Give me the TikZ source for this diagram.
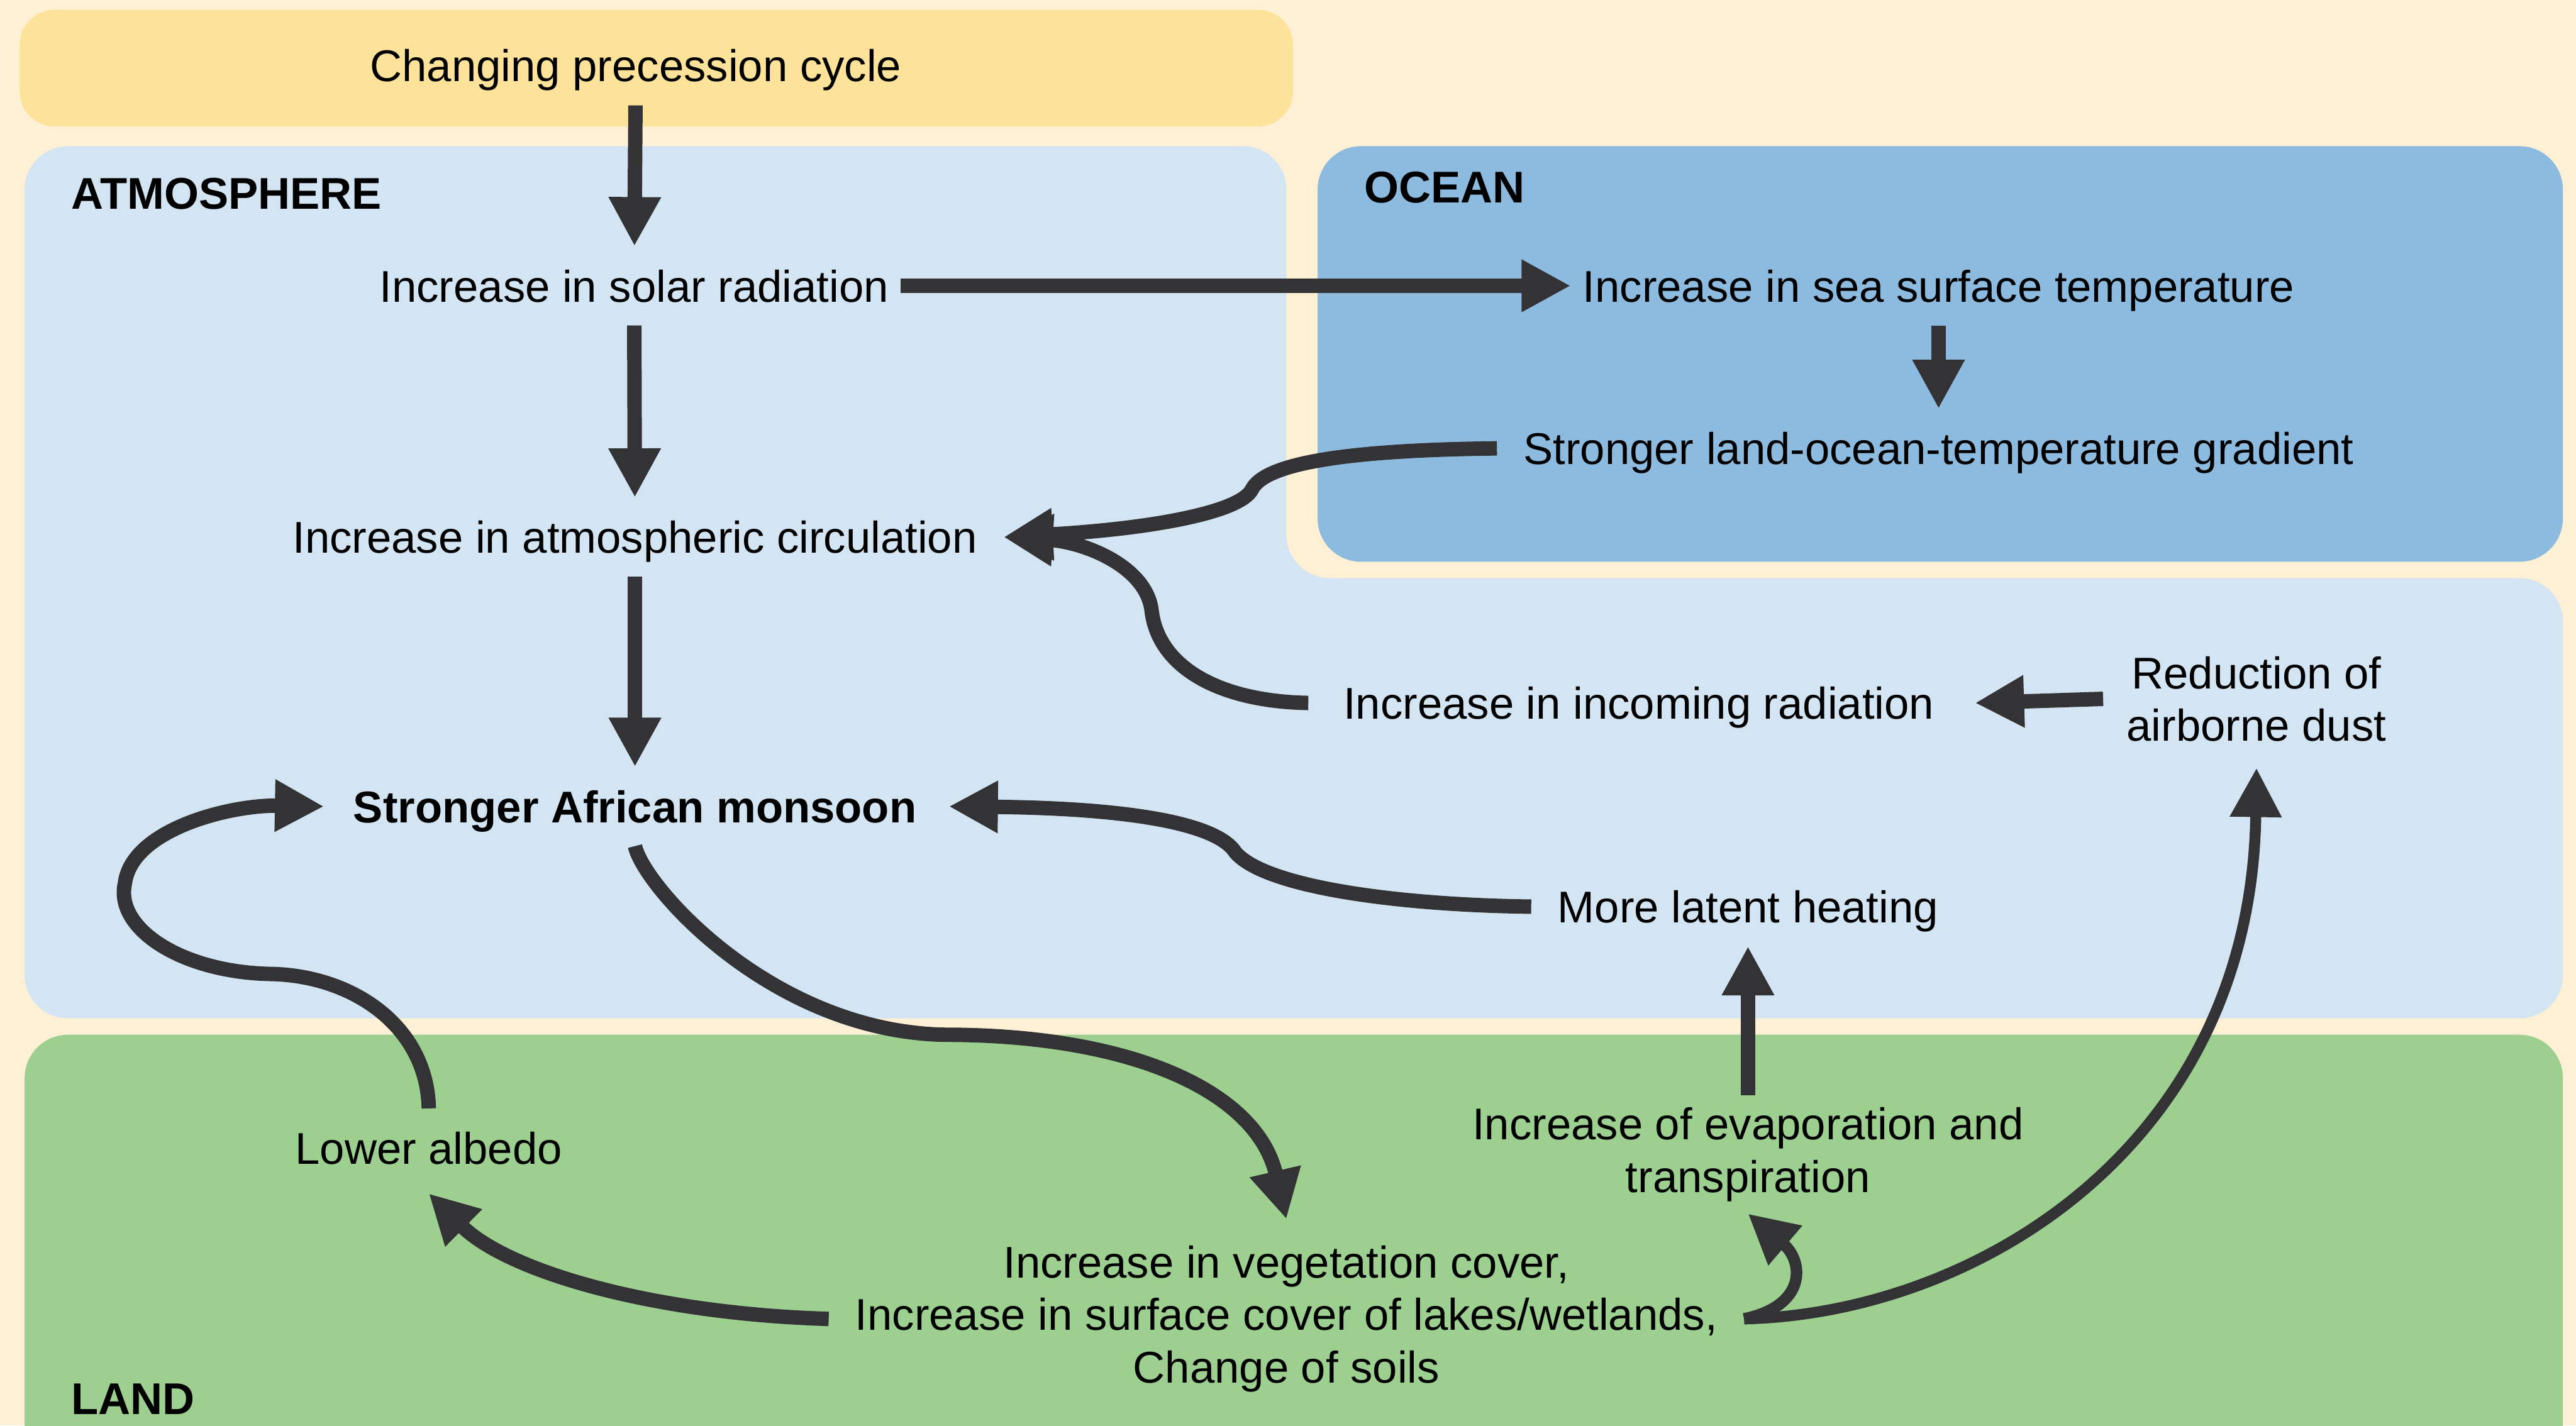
\documentclass[tikz,border=0pt]{standalone}
\usepackage{fontspec}
\setmainfont{Liberation Sans}
\usepackage{tikz}
\usetikzlibrary{arrows.meta}

\definecolor{bgcream}{HTML}{FEF0D5}
\definecolor{precyellow}{HTML}{FDE39A}
\definecolor{atmoblue}{HTML}{D3E5F3}
\definecolor{oceanblue}{HTML}{8DBBE0}
\definecolor{landgreen}{HTML}{9DCF91}
\definecolor{arrowgray}{HTML}{333335}

\tikzset{
	txt/.style={inner sep=4pt, font=\fontsize{15.4}{18.2}\selectfont},
	single/.style={txt, inner ysep=8pt, text height=11.1pt, text depth=0pt},
	multi/.style={txt, align=center},
	region/.style={anchor=west, inner sep=0pt, font=\fontsize{15.4}{18.2}\selectfont\bfseries},
	feed/.style={draw=arrowgray, line width=5pt, -{Triangle[length=17pt, width=17pt]}},
	thinfeed/.style={feed, line width=3.8pt}
}

\begin{document}
\begin{tikzpicture}[x=0.02cm, y=-0.02cm]
			\useasboundingbox (0,0) rectangle (1568,868);
			\fill[bgcream] (0,0) rectangle (1568,868);
			
			\fill[precyellow, rounded corners=12pt] (12,6) rectangle (787,77);
			\fill[atmoblue, rounded corners=15pt] (15,89) -- (783,89) -- (783,352) -- (1560,352) -- (1560,620) -- (15,620) -- cycle;
			\fill[oceanblue, rounded corners=15pt] (802,89) rectangle (1560,342);
			\fill[landgreen, rounded corners=15pt] (15,630) rectangle (1560,910);
			
			\node[region] (atmolabel) at (43,118) {ATMOSPHERE};
			\node[region] (oceanlabel) at (830,114) {OCEAN};
			\node[region] (landlabel) at (43,852) {LAND};
			
			\node[single] (prec) at (387,40) {Changing precession cycle};
			\node[single] (solar) at (386,174) {Increase in solar radiation};
			\node[single] (sst) at (1180,174) {Increase in sea surface temperature};
			\node[single] (grad) at (1180,273) {Stronger land-ocean-temperature gradient};
			\node[single] (circ) at (386.5,327) {Increase in atmospheric circulation};
			\node[single, font=\fontsize{15.4}{18.2}\selectfont\bfseries] (monsoon) at (386.5,491) {Stronger African monsoon};
			\node[single] (incoming) at (997.5,428) {Increase in incoming radiation};
			\node[multi] (dust) at (1373.5,425.5) {Reduction of\\airborne dust};
			\node[single] (latent) at (1064,552) {More latent heating};
			\node[multi] (evap) at (1064,703) {Increase of evaporation and\\transpiration};
			\node[single] (albedo) at (261,699) {Lower albedo};
			\node[multi] (veg) at (783,803) {Increase in vegetation cover,\\Increase in surface cover of lakes/wetlands,\\Change of soils};
			
			\draw[feed] (prec) -- (solar);
			\draw[feed] (solar) -- (sst);
			\draw[feed] (sst) -- (grad);
			\draw[feed] (solar) -- (circ);
			\draw[feed] (circ) -- (monsoon);
			\draw[feed] (evap) -- (latent);
			\draw[feed] ([xshift=-4pt]dust.west) -- ([xshift=10pt]incoming.east);
			
			\draw[feed] ([xshift=-5pt]grad.west) .. controls (820,274) and (770,282) .. (762,298) .. controls (755,312) and (700,322) .. ([xshift=5pt]circ.east);
			\draw[feed] ([xshift=-8pt]incoming.west) .. controls (740,427) and (705,405) .. (701,372) .. controls (698,345) and (660,330) .. ([xshift=5pt]circ.east);
			\draw[feed] ([xshift=-5pt]latent.west) .. controls (850,551) and (770,540) .. (752,519) .. controls (740,500) and (680,492) .. ([xshift=7pt]monsoon.east);
			\draw[feed] (monsoon.south) .. controls (392,540) and (470,628) .. (575,630) .. controls (690,630) and (765,665) .. ([yshift=5pt]veg.north);
			\draw[feed] ([xshift=-5pt]veg.west) .. controls (400,800) and (310,775) .. ([yshift=-2pt]albedo.south);
			\draw[feed] (albedo.north) .. controls (260,625) and (215,594) .. (165,593) .. controls (110,592) and (70,565) .. (76,538) .. controls (80,505) and (140,490) .. ([xshift=-6pt]monsoon.west);
			\draw[feed, line width=4pt] ([xshift=5pt]veg.east) .. controls (1100,795) and (1098,768) .. (evap.south);
			\draw[thinfeed] ([xshift=5pt]veg.east) .. controls (1200,800) and (1370,700) .. ([yshift=-5pt]dust.south);
\end{tikzpicture}
\end{document}
